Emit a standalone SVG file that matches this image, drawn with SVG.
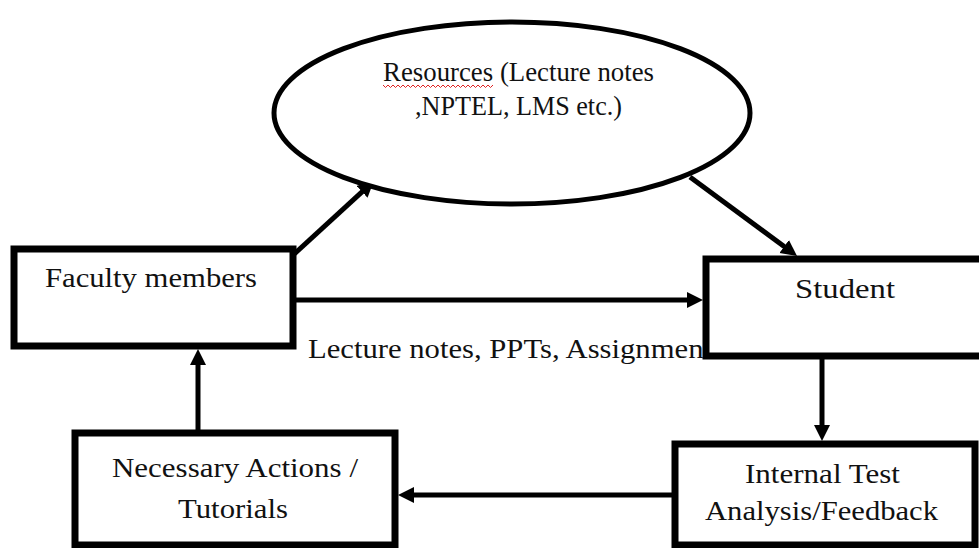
<svg xmlns="http://www.w3.org/2000/svg" width="979" height="548" viewBox="0 0 979 548">
<style>
.box{fill:#fff;stroke:#000;stroke-width:7}
.ell{fill:#fff;stroke:#000;stroke-width:5}
.con{stroke:#000;stroke-width:5;fill:none;marker-end:url(#ah)}
.t{font-family:'Liberation Serif','DejaVu Serif',serif;font-size:27px;fill:#111}
</style>
<defs>
<marker id="ah" markerUnits="userSpaceOnUse" markerWidth="18" markerHeight="18" refX="8" refY="8" orient="auto">
<path d="M0,0 L16,8 L0,16 z" fill="#000"/>
</marker>
</defs>
<rect width="979" height="548" fill="#fff"/>
<g id="connectors">
<line class="con" x1="292" y1="256" x2="368" y2="186.4"/>
<line class="con" x1="690" y1="177" x2="790.6" y2="251.2"/>
<line class="con" x1="293" y1="300" x2="695" y2="300"/>
<line class="con" x1="822" y1="356" x2="822" y2="433"/>
<line class="con" x1="675" y1="495" x2="406" y2="495"/>
<line class="con" x1="198" y1="433" x2="198" y2="357"/>
<text class="t" x="308" y="358" textLength="404" lengthAdjust="spacingAndGlyphs">Lecture notes, PPTs, Assignment</text>
</g>
<g id="resources">
<ellipse class="ell" cx="512" cy="113" rx="238" ry="91"/>
<text class="t" x="383" y="81" textLength="271" lengthAdjust="spacingAndGlyphs">Resources (Lecture notes</text>
<path d="M383,85 l2.5,2.5 l2.5,-2.5 l2.5,2.5 l2.5,-2.5 l2.5,2.5 l2.5,-2.5 l2.5,2.5 l2.5,-2.5 l2.5,2.5 l2.5,-2.5 l2.5,2.5 l2.5,-2.5 l2.5,2.5 l2.5,-2.5 l2.5,2.5 l2.5,-2.5 l2.5,2.5 l2.5,-2.5 l2.5,2.5 l2.5,-2.5 l2.5,2.5 l2.5,-2.5 l2.5,2.5 l2.5,-2.5 l2.5,2.5 l2.5,-2.5 l2.5,2.5 l2.5,-2.5 l2.5,2.5 l2.5,-2.5 l2.5,2.5 l2.5,-2.5 l2.5,2.5 l2.5,-2.5 l2.5,2.5 l2.5,-2.5 l2.5,2.5 l2.5,-2.5 l2.5,2.5 l2.5,-2.5 l2.5,2.5 l2.5,-2.5 l2.5,2.5 l2.5,-2.5" fill="none" stroke="#e02020" stroke-width="1"/>
<text class="t" x="415" y="115" textLength="207" lengthAdjust="spacingAndGlyphs">,NPTEL, LMS etc.)</text>
</g>
<g id="faculty">
<rect class="box" x="14" y="249" width="279" height="97"/>
<text class="t" x="45" y="287" textLength="212" lengthAdjust="spacingAndGlyphs">Faculty members</text>
</g>
<g id="student">
<rect class="box" x="706" y="259" width="290" height="97"/>
<text class="t" x="795" y="298" textLength="100" lengthAdjust="spacingAndGlyphs">Student</text>
</g>
<g id="internal-test">
<rect class="box" x="675" y="444" width="300" height="101"/>
<text class="t" x="745" y="483" textLength="155" lengthAdjust="spacingAndGlyphs">Internal Test</text>
<text class="t" x="705" y="520" textLength="233" lengthAdjust="spacingAndGlyphs">Analysis/Feedback</text>
</g>
<g id="necessary-actions">
<rect class="box" x="75" y="433" width="320" height="112"/>
<text class="t" x="112" y="477" textLength="246" lengthAdjust="spacingAndGlyphs">Necessary Actions /</text>
<text class="t" x="178" y="518" textLength="110" lengthAdjust="spacingAndGlyphs">Tutorials</text>
</g>
</svg>
